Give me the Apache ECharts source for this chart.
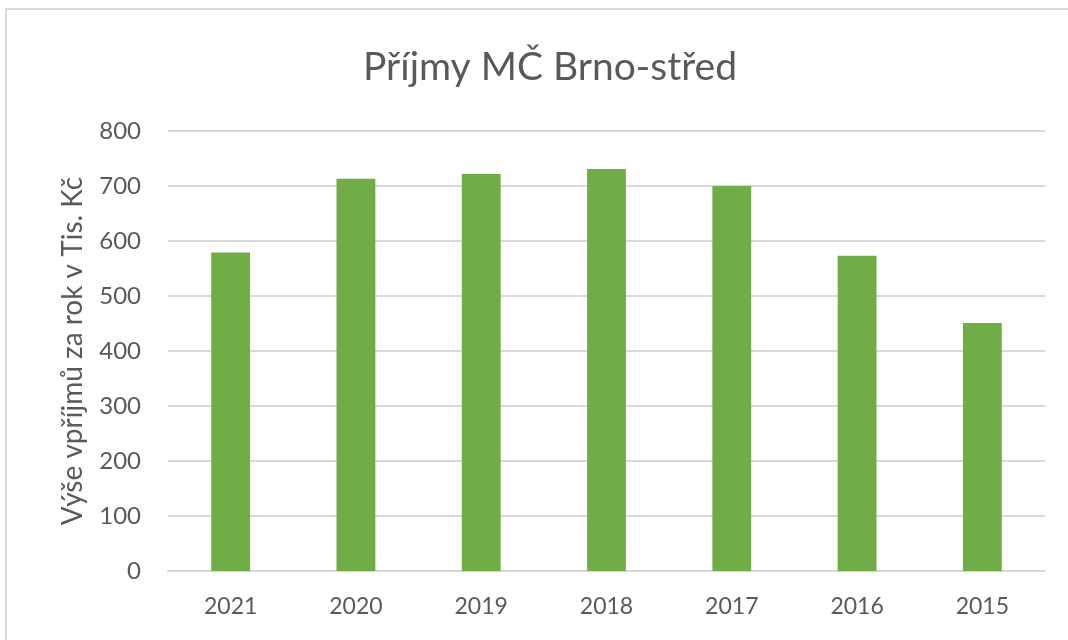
<!DOCTYPE html>
<html>
<head>
<meta charset="utf-8">
<script src="https://cdn.jsdelivr.net/npm/echarts@6/dist/echarts.min.js"></script>
<style>
  html, body { margin: 0; padding: 0; background: #fff; }
  #frame {
    position: absolute; left: 5px; top: 8px; right: -4px; bottom: -4px;
    border: 2px solid #d9d9d9;
  }
  #chart { position: absolute; left: 0; top: 0; width: 1068px; height: 640px; }
</style>
</head>
<body>
<div id="frame"></div>
<div id="chart"></div>
<script>
// data
const years = ['2021', '2020', '2019', '2018', '2017', '2016', '2015']
const income = [579, 713, 722, 731, 700, 573, 451]

const textColor = '#595959'
const font = 'Lato, "Open Sans", sans-serif'

const chart = echarts.init(document.getElementById('chart'))
chart.setOption({
  animation: false,
  title: {
    text: 'Příjmy MČ Brno-střed',
    left: 545,
    textAlign: 'center',
    top: 43,
    textStyle: { color: textColor, fontSize: 39, fontWeight: 'normal', fontFamily: font },
  },
  grid: { left: 168, right: 23, top: 131, bottom: 69 },
  xAxis: {
    type: 'category',
    data: years,
    axisLine: { lineStyle: { color: '#d9d9d9', width: 2 } },
    axisTick: { show: false },
    axisLabel: { color: textColor, fontSize: 23, margin: 24, fontFamily: font },
  },
  yAxis: {
    type: 'value',
    min: 0,
    max: 800,
    interval: 100,
    name: 'Výše vpříjmů za rok v Tis. Kč',
    nameLocation: 'middle',
    nameGap: 81,
    nameTextStyle: { color: textColor, fontSize: 28, fontFamily: font },
    axisLine: { show: false },
    axisTick: { show: false },
    axisLabel: { color: textColor, fontSize: 24, margin: 27, fontFamily: font },
    splitLine: { lineStyle: { color: '#d9d9d9', width: 2 } },
  },
  series: [
    {
      type: 'bar',
      data: income,
      barWidth: '31%',
      itemStyle: { color: '#70ad47' },
    },
  ],
})
</script>
</body>
</html>
